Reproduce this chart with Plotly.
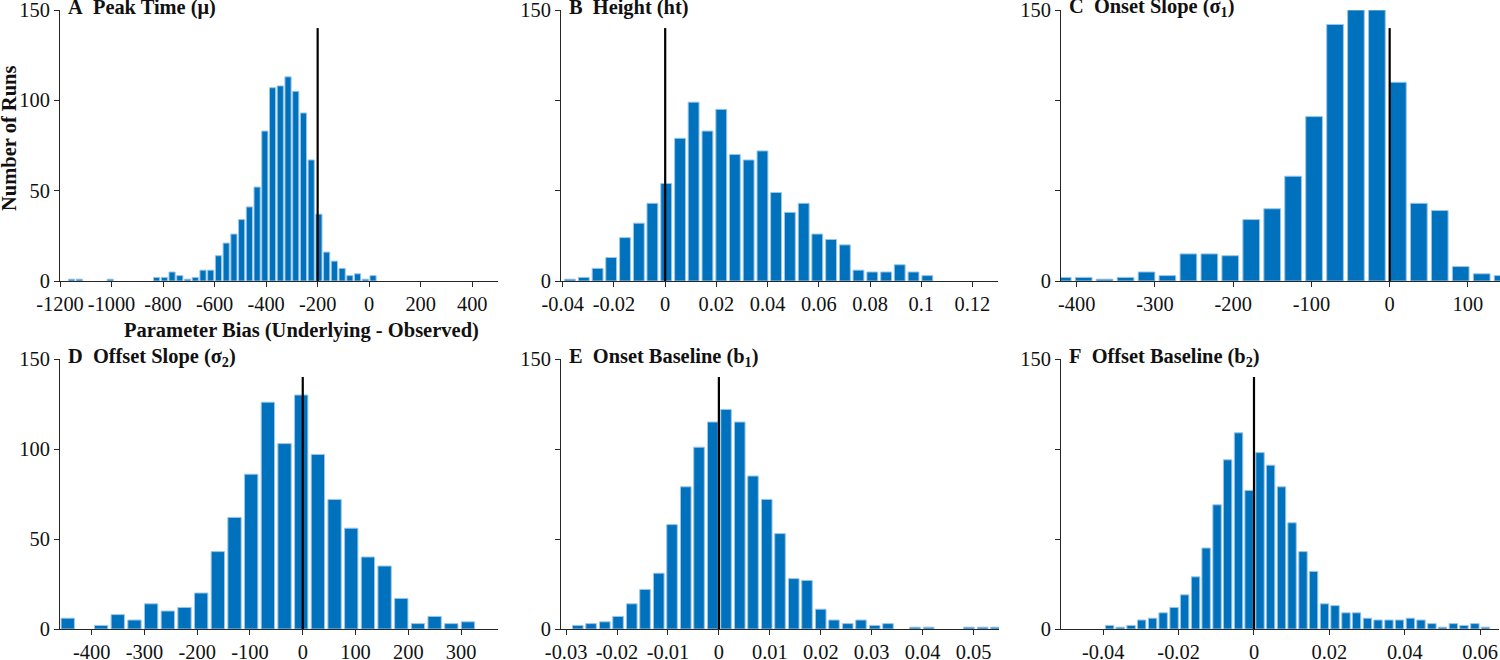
import plotly.graph_objects as go

# ---------------- data ----------------
a_x = [-1155, -1125, -1005, -825, -795, -765, -735, -705, -675, -645, -615, -585, -555, -525,
       -495, -465, -435, -405, -375, -345, -315, -285, -255, -225, -195, -165, -135, -105,
       -75, -45, -15, 15]
a_y = [1, 1, 1, 2, 2, 5, 3, 1, 2, 6, 6, 14, 21, 26, 34, 41, 52, 83, 107, 108, 113, 105, 93,
       67, 37, 16, 11, 7, 3, 4, 1, 3]

b_x = [-0.0372, -0.0318, -0.0264, -0.0211, -0.0157, -0.0103, -0.0050, 0.0004, 0.0058, 0.0111,
       0.0165, 0.0219, 0.0272, 0.0326, 0.0380, 0.0433, 0.0487, 0.0541, 0.0594, 0.0648, 0.0702,
       0.0755, 0.0809, 0.0863, 0.0916, 0.0970, 0.1024]
b_y = [1, 2, 7, 13, 24, 32, 43, 54, 79, 99, 83, 95, 70, 67, 72, 49, 38, 43, 26, 23, 20, 6, 5,
       5, 9, 5, 3]

c_x = [-417.8, -391.0, -364.3, -337.5, -310.7, -284.0, -257.2, -230.4, -203.7, -176.9, -150.1,
       -123.4, -96.6, -69.8, -43.1, -16.3, 10.5, 37.3, 64.0, 90.8, 117.6, 144.3]
c_y = [2, 2, 1, 2, 5, 3, 15, 15, 14, 34, 40, 58, 91, 142, 150, 150, 110, 43, 39, 8, 4, 3]

d_x = [-445.3, -382.1, -350.5, -318.9, -287.3, -255.7, -224.1, -192.5, -160.9, -129.3, -97.7,
       -66.1, -34.5, -2.9, 28.7, 60.3, 91.9, 123.5, 155.1, 186.7, 218.3, 249.9, 281.5, 313.1]
d_y = [6, 2, 8, 5, 14, 10, 12, 20, 43, 62, 86, 126, 103, 130, 97, 72, 56, 40, 35, 17, 3, 7, 3, 4]

e_x = [-0.0277, -0.0251, -0.0224, -0.0198, -0.0171, -0.0145, -0.0118, -0.0092, -0.0065, -0.0039,
       -0.0012, 0.0014, 0.0041, 0.0067, 0.0094, 0.0120, 0.0147, 0.0173, 0.0200, 0.0226, 0.0253,
       0.0279, 0.0306, 0.0332, 0.0385, 0.0412, 0.0491, 0.0518, 0.0544]
e_y = [2, 3, 4, 7, 14, 22, 31, 58, 79, 101, 115, 122, 115, 85, 72, 53, 28, 27, 11, 5, 3, 5, 2, 3,
       1, 1, 1, 1, 1]

f_x = [-0.0383, -0.0355, -0.0326, -0.0298, -0.0269, -0.0241, -0.0212, -0.0184, -0.0155, -0.0127,
       -0.0098, -0.0070, -0.0041, -0.0013, 0.0016, 0.0044, 0.0073, 0.0101, 0.0130, 0.0158, 0.0187,
       0.0215, 0.0244, 0.0272, 0.0301, 0.0329, 0.0358, 0.0386, 0.0415, 0.0443, 0.0472, 0.0500,
       0.0529, 0.0557, 0.0586, 0.0614]
f_y = [2, 1, 2, 5, 6, 9, 12, 19, 29, 45, 69, 94, 109, 77, 98, 91, 79, 59, 43, 32, 14, 13, 9, 9,
       6, 5, 5, 5, 6, 5, 3, 1, 3, 2, 3, 1]

titles = ["A\u00a0 Peak Time (\u03bc)", "B\u00a0 Height (ht)", "C\u00a0 Onset Slope (\u03c3<sub>1</sub>)",
          "D\u00a0 Offset Slope (\u03c3<sub>2</sub>)", "E\u00a0 Onset Baseline (b<sub>1</sub>)",
          "F\u00a0 Offset Baseline (b<sub>2</sub>)"]
ref_x = [-200, 0, 0, 0, 0, 0]
ref_top = 140

a_ticks = [-1200, -1000, -800, -600, -400, -200, 0, 200, 400]
b_ticks = [-0.04, -0.02, 0, 0.02, 0.04, 0.06, 0.08, 0.1, 0.12]
b_text = ["-0.04", "-0.02", "0", "0.02", "0.04", "0.06", "0.08", "0.1", "0.12"]
c_ticks = [-400, -300, -200, -100, 0, 100]
d_ticks = [-400, -300, -200, -100, 0, 100, 200, 300]
e_ticks = [-0.03, -0.02, -0.01, 0, 0.01, 0.02, 0.03, 0.04, 0.05]
e_text = ["-0.03", "-0.02", "-0.01", "0", "0.01", "0.02", "0.03", "0.04", "0.05"]
f_ticks = [-0.04, -0.02, 0, 0.02, 0.04, 0.06]
f_text = ["-0.04", "-0.02", "0", "0.02", "0.04", "0.06"]

y_ticks = [0, 50, 100, 150]
y_text_full = ["0", "50", "100", "150"]
y_text_min = ["0", "", "", "150"]

x_title = "Parameter Bias (Underlying - Observed)"
y_title = "Number of Runs"

# ---------------- layout helpers ----------------
W, H = 1500, 660
FONT = "Liberation Serif, Times New Roman, serif"
AX = "#262626"
BAR = "#0072BD"
EDGE = "#9CC6E8"
TXT = "#111111"
FS = 20.4


def fx(px):
    return px / W


def fy(py):
    return 1 - py / H


panels = [
    dict(x=a_x, y=a_y, xr=[-1200, 500], px=(60, 498), py=(10, 281), tv=a_ticks, tt=[str(t) for t in a_ticks], yt=y_text_full),
    dict(x=b_x, y=b_y, xr=[-0.0407, 0.13], px=(561, 998), py=(10, 281), tv=b_ticks, tt=b_text, yt=y_text_min),
    dict(x=c_x, y=c_y, xr=[-420, 141], px=(1061, 1500), py=(10, 281), tv=c_ticks, tt=[str(t) for t in c_ticks], yt=y_text_min),
    dict(x=d_x, y=d_y, xr=[-460, 370], px=(60, 498), py=(359, 629), tv=d_ticks, tt=[str(t) for t in d_ticks], yt=y_text_full),
    dict(x=e_x, y=e_y, xr=[-0.031, 0.055], px=(561, 999), py=(359, 629), tv=e_ticks, tt=e_text, yt=y_text_min),
    dict(x=f_x, y=f_y, xr=[-0.0512, 0.065], px=(1061, 1499), py=(359, 629), tv=f_ticks, tt=f_text, yt=y_text_min),
]

fig = go.Figure()
layout = dict(
    width=W, height=H, margin=dict(l=0, r=0, t=0, b=0, pad=0),
    paper_bgcolor="white", plot_bgcolor="white", showlegend=False,
    bargap=0.2, font=dict(family=FONT, size=FS, color=TXT),
)
annotations = []
for i, p in enumerate(panels):
    n = "" if i == 0 else str(i + 1)
    xa, ya = "x" + n, "y" + n
    fig.add_trace(go.Bar(x=p["x"], y=p["y"], xaxis=xa, yaxis=ya,
                         marker=dict(color=BAR, line=dict(color=EDGE, width=1)), hoverinfo="x+y"))
    fig.add_trace(go.Scatter(x=[ref_x[i], ref_x[i]], y=[0, ref_top], xaxis=xa, yaxis=ya, mode="lines",
                             line=dict(color="black", width=2.2), hoverinfo="skip"))
    xd = [max(0.0, fx(p["px"][0])), min(1.0, fx(p["px"][1]))]
    yd = [fy(p["py"][1]), fy(p["py"][0])]
    layout["xaxis" + n] = dict(domain=xd, range=p["xr"], anchor=ya, showgrid=False, zeroline=False,
                               automargin=False, ticklabeloverflow="allow",
                               showline=True, linecolor=AX, linewidth=1, ticks="outside", ticklen=5,
                               tickcolor=AX, tickvals=p["tv"], ticktext=p["tt"],
                               tickfont=dict(family=FONT, size=FS, color=TXT))
    layout["yaxis" + n] = dict(domain=yd, range=[0, 150], anchor=xa, showgrid=False, zeroline=False,
                               automargin=False, ticklabeloverflow="allow",
                               showline=True, linecolor=AX, linewidth=1, ticks="outside", ticklen=5,
                               tickcolor=AX, tickvals=y_ticks, ticktext=p["yt"],
                               tickfont=dict(family=FONT, size=FS, color=TXT))
    annotations.append(dict(text="<b>" + titles[i] + "</b>", xref="paper", yref="paper",
                            x=fx(p["px"][0] + 6), y=fy(p["py"][0] - 2),
                            xanchor="left", yanchor="middle", showarrow=False,
                            font=dict(family=FONT, size=FS, color=TXT)))

annotations.append(dict(text="<b>" + x_title + "</b>", xref="paper", yref="paper",
                        x=fx(301), y=fy(330), xanchor="center", yanchor="middle",
                        showarrow=False, font=dict(family=FONT, size=20.5, color=TXT)))
annotations.append(dict(text="<b>" + y_title + "</b>", xref="paper", yref="paper",
                        x=fx(9), y=fy(139), xanchor="center", yanchor="middle", textangle=-90,
                        showarrow=False, font=dict(family=FONT, size=20.5, color=TXT)))
layout["annotations"] = annotations
fig.update_layout(**layout)
# remove the browser's default 8px body margin so the 1500x660 figure fills the window exactly
fig.write_html("out.html", config={"displayModeBar": False},
               post_script="document.body.style.margin='0px';document.body.style.overflow='hidden';")
